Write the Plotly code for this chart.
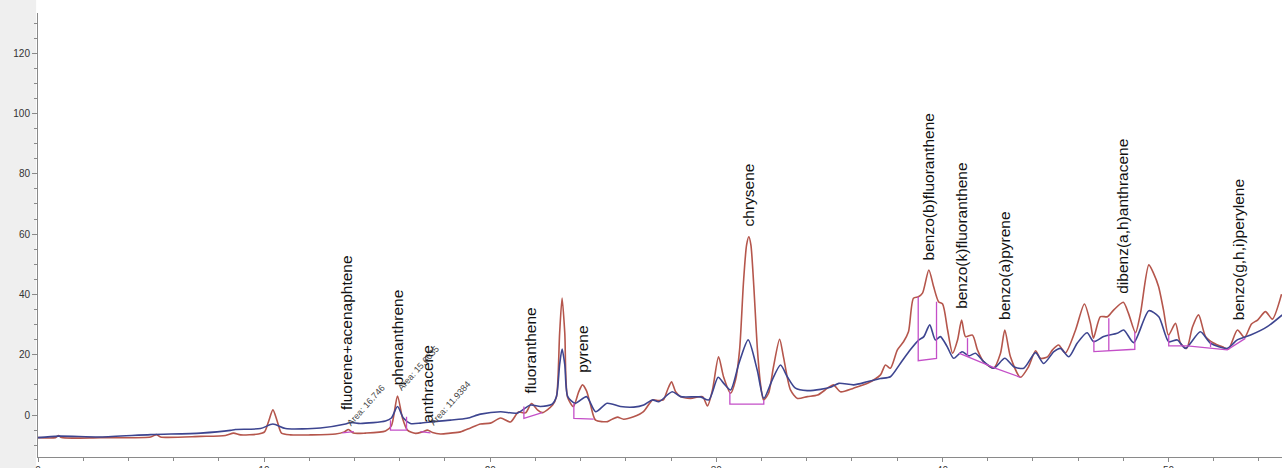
import plotly.graph_objects as go

# ---- data (retention time in min, detector signal) ----
red_x = [0, 0.77, 0.91, 1.04, 2.76, 4.98, 5.24, 5.42, 7.19, 8.29, 8.65, 8.96, 9.75, 10.02, 10.19, 10.39, 10.59, 10.77,
         11.17, 12.05, 13.16, 13.55, 13.73, 13.95, 14.48, 15.37, 15.63, 15.90, 16.12, 16.34, 16.70, 17.00, 17.23, 17.45,
         17.80, 18.24, 18.69, 19.13, 19.57, 20.01, 20.46, 20.90, 21.25, 21.56, 21.83, 22.09, 22.31, 22.76, 22.93, 23.07,
         23.18, 23.30, 23.42, 23.68, 23.91, 24.08, 24.26, 24.44, 24.66, 25.19, 25.41, 25.63, 25.90, 26.34, 26.78, 27.18,
         27.44, 27.66, 27.84, 28.02, 28.20, 28.42, 28.86, 29.39, 29.61, 29.83, 30.10, 30.32, 30.63, 30.85, 31.03, 31.20,
         31.34, 31.44, 31.53, 31.65, 31.82, 31.96, 32.09, 32.31, 32.53, 32.80, 32.97, 33.28, 33.59, 34.03, 34.48, 34.92,
         35.18, 35.49, 36.07, 36.69, 37.26, 37.48, 37.70, 38.01, 38.28, 38.50, 38.72, 38.94, 39.12, 39.40, 39.61, 39.83,
         40.01, 40.23, 40.45, 40.67, 40.85, 41.02, 41.33, 41.55, 41.82, 42.26, 42.57, 42.76, 43.01, 43.45, 43.81, 44.12,
         44.34, 44.65, 44.87, 45.14, 45.44, 45.89, 46.28, 46.55, 46.68, 46.99, 47.30, 47.57, 48.00, 48.23, 48.54, 48.76,
         49.13, 49.34, 49.56, 49.78, 50.00, 50.31, 50.53, 50.80, 51.06, 51.33, 51.64, 51.99, 52.39, 52.65, 53.05, 53.36,
         53.67, 53.94, 54.29, 54.59, 55.00]
red_y = [-7.5, -7.5, -6.8, -7.5, -7.5, -7.3, -6.5, -7.3, -7.1, -6.8, -6.0, -6.6, -6.3, -5.6, -2.3, 1.7, -2.3, -6.0,
         -6.6, -6.6, -6.3, -5.6, -4.8, -6.0, -6.0, -5.3, -3.6, 6.3, -1.0, -5.0, -6.1, -5.6, -5.0, -5.8,
         -6.3, -6.0, -5.6, -4.3, -3.0, -2.7, -1.0, -2.3, 1.0, 0.7, 3.8, 1.7, 0.8, 3.3, 6.0, 27.0,
         38.8, 27.0, 6.0, 2.8, 7.6, 10.0, 8.0, 3.3, -1.7, -2.2, -1.3, -0.7, -1.4, -0.6, 1.1, 5.0,
         4.8, 5.0, 8.3, 11.0, 7.7, 6.1, 5.5, 6.1, 3.0, 8.3, 19.3, 12.7, 7.2, 11.6, 21.6, 43.8,
         56.4, 59.1, 56.4, 43.8, 21.6, 10.0, 5.0, 7.2, 16.0, 25.1, 19.3, 8.3, 5.5, 6.1, 6.6, 8.9,
         10.0, 7.7, 8.9, 10.5, 13.3, 16.6, 15.5, 21.6, 24.3, 27.6, 38.7, 39.2, 40.4, 48.1, 42.6, 37.6,
         36.8, 28.2, 20.5, 24.9, 31.5, 26.0, 26.5, 21.6, 17.7, 15.5, 20.5, 28.2, 19.3, 12.5, 16.0, 21.3,
         18.8, 19.3, 21.6, 23.2, 20.6, 28.2, 36.8, 30.4, 25.5, 32.6, 32.6, 34.8, 37.4, 33.7, 27.3, 33.7,
         49.8, 47.0, 42.6, 34.8, 26.5, 30.4, 23.8, 22.1, 29.2, 33.2, 26.0, 23.9, 22.6, 21.9, 28.2, 25.7,
         30.2, 31.5, 34.3, 31.8, 40.1]

blue_x = [0, 0.91, 2.76, 4.98, 7.19, 8.51, 8.73, 9.84, 10.39, 10.95, 12.49, 13.60, 13.82, 14.26, 15.37, 15.63, 15.90,
          16.16, 16.47, 16.92, 17.49, 18.24, 18.98, 19.57, 20.46, 21.19, 21.78, 22.22, 22.74, 22.93, 23.07, 23.18, 23.30,
          23.43, 23.77, 24.26, 24.66, 25.17, 25.76, 26.35, 26.79, 27.17, 27.46, 28.05, 28.42, 29.30, 29.67, 30.08, 30.33,
          30.63, 31.00, 31.41, 31.81, 32.10, 32.47, 32.84, 33.14, 33.50, 34.02, 34.61, 35.05, 35.42, 36.08, 36.67, 37.26,
          37.70, 38.14, 38.58, 38.96, 39.18, 39.44, 39.69, 39.91, 40.21, 40.50, 40.87, 41.17, 41.46, 41.83, 42.27, 42.76,
          43.16, 43.60, 44.12, 44.48, 44.93, 45.22, 45.59, 45.96, 46.40, 46.69, 47.13, 47.73, 48.02, 48.46, 49.13, 49.57,
          50.01, 50.39, 50.75, 51.41, 51.86, 52.60, 53.04, 53.63, 54.37, 55.03]
blue_y = [-7.5, -7.0, -7.3, -6.5, -6.0, -5.1, -4.8, -4.5, -3.0, -4.5, -4.3, -3.0, -2.5, -2.8, -2.0, -1.0, 2.8,
          -1.0, -2.8, -2.7, -2.2, -1.7, -1.1, 0.3, 1.1, 0.6, 3.3, 2.8, 3.6, 6.1, 16.6, 21.9, 16.6,
          6.1, 3.9, 6.1, 1.1, 3.9, 2.8, 2.6, 3.3, 5.0, 4.4, 7.7, 6.1, 6.0, 5.0, 12.5, 10.5,
          8.3, 17.1, 24.9, 14.9, 5.5, 11.6, 16.6, 12.7, 8.9, 8.1, 8.5, 9.2, 10.5, 10.0, 11.0, 12.1,
          12.7, 17.1, 21.6, 24.9, 26.0, 29.9, 24.9, 26.0, 22.7, 18.8, 21.0, 19.6, 20.5, 17.7, 15.5, 18.8,
          16.0, 15.5, 20.7, 17.1, 21.0, 22.1, 19.3, 23.8, 27.3, 24.3, 26.0, 27.1, 28.2, 24.0, 34.6, 32.6,
          24.3, 24.9, 22.1, 27.6, 23.8, 22.1, 24.9, 26.5, 29.3, 33.2]

# integration baselines / drop lines (segments separated by None)
base_x = [13.46, 13.97, None,
          15.59, 15.59, 16.30, 16.30, None,
          16.92, 17.36, None,
          21.49, 21.49, 22.30, None,
          23.70, 23.70, 24.58, None,
          30.60, 30.60, 32.10, 32.10, None,
          38.93, 38.93, 39.74, 39.74, None,
          40.73, 42.36, 43.45, None,
          41.11, 41.11, None,
          46.70, 46.70, 48.51, 48.51, None,
          47.36, 47.36, None,
          50.01, 50.01, 50.83, 52.60, 53.40, None,
          51.86, 51.86]
base_y = [-5.9, -5.5, None,
          -1.7, -5.0, -5.0, -0.6, None,
          -5.5, -5.9, None,
          2.8, -1.1, 0.8, None,
          3.9, -1.1, -1.4, None,
          7.7, 3.6, 3.6, 5.0, None,
          39.2, 18.0, 18.8, 37.6, None,
          20.5, 15.5, 12.5, None,
          25.5, 19.4, None,
          24.9, 21.0, 21.8, 27.6, None,
          32.1, 21.2, None,
          26.5, 22.9, 22.9, 21.6, 25.4, None,
          24.3, 22.5]

peak_names = ["fluorene+acenaphtene", "phenanthrene", "anthracene", "fluoranthene", "pyrene", "chrysene",
              "benzo(b)fluoranthene", "benzo(k)fluoranthene", "benzo(a)pyrene", "dibenz(a,h)anthracene",
              "benzo(g,h,i)perylene"]
peak_x = [13.65, 15.90, 17.24, 21.78, 24.08, 31.44, 39.40, 40.84, 42.74, 47.96, 53.10]
peak_label_y = [1.0, 9.0, -3.3, 6.6, 13.3, 62.0, 50.7, 34.5, 30.8, 39.5, 30.8]

area_text = ["Area: 16.746", "Area: 15.6035", "Area: 11.9384"]
area_x = [14.52, 16.83, 18.24]
area_y = [3.3, 15.6, 4.0]

x_range = [0, 55.02]
y_range = [-13.93, 133.33]

fig = go.Figure()
fig.add_trace(go.Scatter(x=red_x, y=red_y, mode="lines",
                         line=dict(color="#b5564c", width=1.6, shape="spline", smoothing=0.7)))
fig.add_trace(go.Scatter(x=blue_x, y=blue_y, mode="lines",
                         line=dict(color="#3d4590", width=1.6, shape="spline", smoothing=0.7)))
fig.add_trace(go.Scatter(x=base_x, y=base_y, mode="lines",
                         line=dict(color="#c44fc8", width=1.3), connectgaps=False))

for name, px_, py_ in zip(peak_names, peak_x, peak_label_y):
    fig.add_annotation(x=px_, y=py_, text=name, textangle=-90, showarrow=False,
                       xanchor="center", yanchor="bottom",
                       font=dict(family="Liberation Sans, Arial, sans-serif", size=15.5, color="#111111"))

for t, ax_, ay_ in zip(area_text, area_x, area_y):
    fig.add_annotation(x=ax_, y=ay_, text=t, textangle=-48, showarrow=False,
                       xanchor="center", yanchor="middle",
                       font=dict(family="Liberation Sans, Arial, sans-serif", size=9, color="#444444"))

# grey band left of the y axis
fig.add_shape(type="rect", xref="paper", yref="paper", x0=-0.04, x1=-0.0015, y0=-0.05, y1=1.05,
              fillcolor="#efefef", line=dict(width=0), layer="below")

fig.update_layout(
    width=1282, height=468,
    margin=dict(l=38, r=0, t=13, b=11, autoexpand=False),
    paper_bgcolor="white", plot_bgcolor="white",
    showlegend=False,
    font=dict(family="Liberation Sans, Arial, sans-serif", size=10, color="#333333"),
    xaxis=dict(range=x_range, showgrid=False, zeroline=False, showline=True, linecolor="#8a8a8a", linewidth=1,
               automargin=False,
               ticks="outside", ticklen=4, tickcolor="#8a8a8a", tick0=0, dtick=10,
               tickfont=dict(size=10, color="#333333"),
               minor=dict(ticks="outside", ticklen=3, tickcolor="#8a8a8a", dtick=2)),
    yaxis=dict(range=y_range, showgrid=False, zeroline=False, showline=True, linecolor="#8a8a8a", linewidth=1,
               automargin=False,
               ticks="outside", ticklen=5, tickcolor="#8a8a8a", tick0=0, dtick=20,
               tickfont=dict(size=10, color="#333333"),
               minor=dict(ticks="outside", ticklen=3, tickcolor="#8a8a8a", dtick=5)),
)

# remove the default page margin so the figure sits at the window's top-left corner
fig.write_html("out.html", config={"displayModeBar": False},
               post_script="document.body.style.margin='0';document.body.style.overflow='hidden';")
